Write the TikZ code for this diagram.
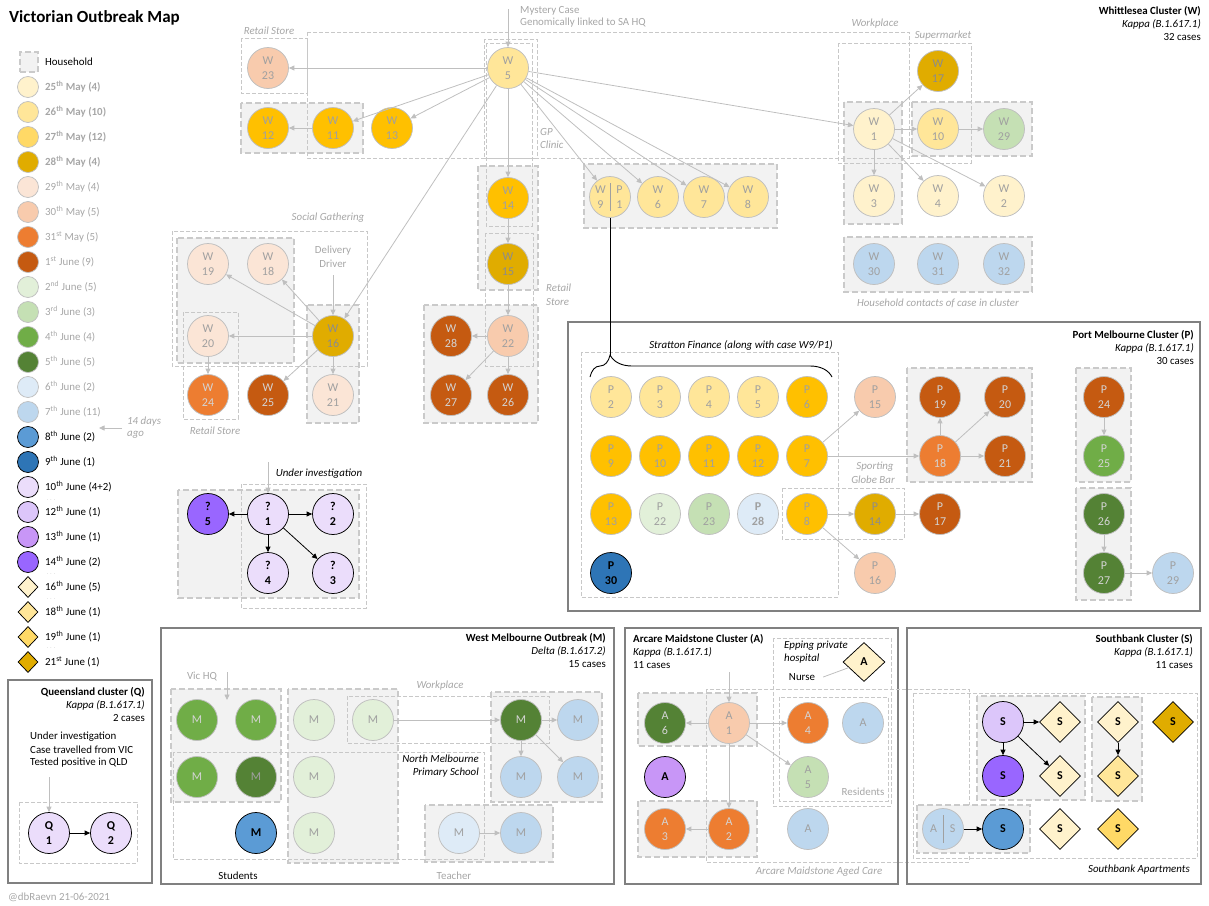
\documentclass[tikz,border=0pt]{standalone}
\usepackage{fontspec}
\setmainfont{Carlito}
\usetikzlibrary{arrows.meta,shapes.geometric,decorations.pathreplacing}

% onset-date palette
\definecolor{dMay25}{HTML}{FFF2CC}
\definecolor{dMay26}{HTML}{FFE699}
\definecolor{dMay27}{HTML}{FFC000}
\definecolor{dMay27key}{HTML}{FFD966}
\definecolor{dMay28}{HTML}{E0AC00}
\definecolor{dMay29}{HTML}{FBE5D6}
\definecolor{dMay30}{HTML}{F8CBAD}
\definecolor{dMay31}{HTML}{ED7D31}
\definecolor{dJun01}{HTML}{C55A11}
\definecolor{dJun02}{HTML}{E2F0D9}
\definecolor{dJun03}{HTML}{C5E0B4}
\definecolor{dJun04}{HTML}{70AD47}
\definecolor{dJun05}{HTML}{548235}
\definecolor{dJun06}{HTML}{DEEBF7}
\definecolor{dJun07}{HTML}{BDD7EE}
\definecolor{dJun08}{HTML}{5B9BD5}
\definecolor{dJun09}{HTML}{2E75B6}
\definecolor{dJun10}{HTML}{EBDDFB}
\definecolor{dJun12}{HTML}{DCC6FA}
\definecolor{dJun13}{HTML}{C896F7}
\definecolor{dJun14}{HTML}{9966FF}
\definecolor{dJun16}{HTML}{FFF2CC}
\definecolor{dJun18}{HTML}{FFE699}
\definecolor{dJun19}{HTML}{FFD966}
\definecolor{dJun21}{HTML}{E0AC00}
% greys
\definecolor{nodeedge}{HTML}{BFBFBF}
\definecolor{nodetext}{HTML}{A0A0A0}
\definecolor{nodelight}{HTML}{D4D4D4}
\definecolor{nodedark}{HTML}{8C8C8C}
\definecolor{edgegray}{HTML}{BFBFBF}
\definecolor{labelgray}{HTML}{A6A6A6}
\definecolor{housefill}{HTML}{F2F2F2}
\definecolor{housedash}{HTML}{CACACA}
\definecolor{zonedash}{HTML}{C8C8C8}
\definecolor{clusteredge}{HTML}{808080}

\newcommand\nf{\fontsize{12}{15}\selectfont}
\newcommand\lf{\fontsize{10.9}{12}\selectfont}

\begin{document}
\begin{tikzpicture}[x=1pt,y=-1pt,
  case/.style={circle, minimum size=41pt, inner sep=0pt, draw=nodeedge, line width=0.75pt, text=nodetext, font=\nf, align=center},
  lt/.style={text=nodelight},
  dk/.style={text=nodedark},
  recent/.style={draw=black, text=black, font=\nf\bfseries},
  sdia/.style={diamond, minimum width=41pt, minimum height=41pt, inner sep=0pt, draw=black, line width=0.75pt, text=black, font=\nf\bfseries},
  arr/.style={draw=edgegray, line width=0.8pt, -{Triangle[length=5.5pt,width=5pt]}},
  barr/.style={draw=black, line width=0.8pt, -{Triangle[length=5.5pt,width=5pt]}},
  house/.style={fill=housefill, draw=housedash, line width=2pt, dash pattern=on 6pt off 3pt},
  zone/.style={draw=zonedash, line width=0.6pt, dash pattern=on 4pt off 2pt},
  cluster/.style={draw=clusteredge, line width=2.2pt},
  tag/.style={font=\lf\itshape, text=labelgray, inner sep=0pt},
  note/.style={font=\lf, text=labelgray, inner sep=0pt},
  blk/.style={font=\lf, text=black, inner sep=0pt},
  bit/.style={font=\lf\itshape, text=black, inner sep=0pt},
  lgb/.style={draw=nodeedge, text=labelgray, font=\lf\bfseries},
  lgg/.style={draw=nodeedge, text=labelgray, font=\lf},
  lgk/.style={draw=black, text=black, font=\lf},
  legdot/.style={circle, minimum size=21pt, inner sep=0pt, line width=0.75pt},
  legdia/.style={diamond, minimum width=20pt, minimum height=21pt, inner sep=0pt, line width=0.75pt},
  legtext/.style={draw=none, anchor=west, inner sep=0pt},
]
\useasboundingbox (0,0) rectangle (1209,905);

% ---------------- title and legend ----------------
\node[anchor=west, inner sep=0pt, font=\fontsize{17}{20}\selectfont\bfseries] (title) at (9,18) {Victorian Outbreak Map};

\node[house, minimum width=18pt, minimum height=20pt, inner sep=0pt] (lghouse) at (29,62) {};
\node[blk, anchor=west] (lghousetxt) at (45,62) {Household};

\foreach \yy/\col/\txt/\tone [count=\k] in {
   87/dMay25/{25\textsuperscript{th} May (4)}/lgb,
  112/dMay26/{26\textsuperscript{th} May (10)}/lgb,
  137/dMay27key/{27\textsuperscript{th} May (12)}/lgb,
  162/dMay28/{28\textsuperscript{th} May (4)}/lgb,
  187/dMay29/{29\textsuperscript{th} May (4)}/lgg,
  212/dMay30/{30\textsuperscript{th} May (5)}/lgg,
  237/dMay31/{31\textsuperscript{st} May (5)}/lgg,
  262/dJun01/{1\textsuperscript{st} June (9)}/lgg,
  287/dJun02/{2\textsuperscript{nd} June (5)}/lgg,
  312/dJun03/{3\textsuperscript{rd} June (3)}/lgg,
  337/dJun04/{4\textsuperscript{th} June (4)}/lgg,
  362/dJun05/{5\textsuperscript{th} June (5)}/lgg,
  387/dJun06/{6\textsuperscript{th} June (2)}/lgg,
  412/dJun07/{7\textsuperscript{th} June (11)}/lgg,
  437/dJun08/{8\textsuperscript{th} June (2)}/lgk,
  462/dJun09/{9\textsuperscript{th} June (1)}/lgk,
  487/dJun10/{10\textsuperscript{th} June (4+2)}/lgk,
  512/dJun12/{12\textsuperscript{th} June (1)}/lgk,
  537/dJun13/{13\textsuperscript{th} June (1)}/lgk,
  562/dJun14/{14\textsuperscript{th} June (2)}/lgk}{
  \node[\tone, legdot, fill=\col] (lgdot\k) at (28,\yy) {};
  \node[\tone, legtext] (lgtxt\k) at (45,\yy) {\txt};
}
\foreach \yy/\col/\txt [count=\k] in {
  587/dJun16/{16\textsuperscript{th} June (5)},
  612/dJun18/{18\textsuperscript{th} June (1)},
  637/dJun19/{19\textsuperscript{th} June (1)},
  662/dJun21/{21\textsuperscript{st} June (1)}}{
  \node[lgk, legdia, fill=\col] (lgdia\k) at (28,\yy) {};
  \node[lgk, legtext] (lgdiatxt\k) at (45,\yy) {\txt};
}
\foreach \yy [count=\k] in {500,574,599,648}
  \node[note, font=\fontsize{6}{6}\selectfont] (lgskip\k) at (51,\yy) {$\cdots$};

\coordinate (agoA) at (122,428);
\coordinate (agoB) at (99,428);
\draw[arr] (agoA) -- (agoB);
\node[tag, anchor=west] (ago1) at (127,422) {14 days};
\node[tag, anchor=west] (ago2) at (127,435) {ago};

% ---------------- Whittlesea cluster ----------------
\node[blk, font=\lf\bfseries, anchor=east] (wt1) at (1201,11) {Whittlesea Cluster (W)};
\node[bit, anchor=east] (wt2) at (1201,24) {Kappa (B.1.617.1)};
\node[blk, anchor=east] (wt3) at (1201,37) {32 cases};

% households
\draw[house] (241,103) rectangle (363,153);
\draw[house] (478,166) rectangle (538,290);
\draw[house] (584,164) rectangle (777,228);
\draw[house] (844,102) rectangle (902,224);
\draw[house] (912,102) rectangle (1032,156);
\draw[house] (844,237) rectangle (1032,292);
\draw[house] (177,238) rectangle (294,363);
\draw[house] (307,305) rectangle (359,423);
\draw[house] (424,305) rectangle (538,423);

% settings
\draw[zone] (241,38) rectangle (307,93);
\draw[zone] (307,32) rectangle (909,158);
\draw[zone] (484,39) rectangle (537,158);
\draw[zone] (486,43) rectangle (532,226);
\draw[zone] (838,43) rectangle (971,163);
\draw[zone] (172,231) rectangle (367,366);
\draw[zone] (183,312) rectangle (238,419);
\draw[zone] (485,233) rectangle (533,366);

\node[tag] (lbretailA) at (269,31) {Retail Store};
\node[tag] (lbwork) at (875,24) {Workplace};
\node[tag] (lbsuper) at (943,36) {Supermarket};
\node[tag, anchor=west] (lbgp1) at (540,132) {GP};
\node[tag, anchor=west] (lbgp2) at (540,145) {Clinic};
\node[tag] (lbsocial) at (328,218) {Social Gathering};
\node[tag] (lbretailB) at (215,431) {Retail Store};
\node[tag, anchor=west] (lbretailC1) at (546,288) {Retail};
\node[tag, anchor=west] (lbretailC2) at (546,302) {Store};
\node[tag] (lbcontacts) at (938,303) {Household contacts of case in cluster};
\node[note] (lbdd1) at (333,251) {Delivery};
\node[note] (lbdd2) at (333,264) {Driver};
\node[note, anchor=west] (lbmys1) at (520,11) {Mystery Case};
\node[note, anchor=west] (lbmys2) at (520,23) {Genomically linked to SA HQ};

% cases
\node[case, fill=dMay26] (w5) at (508,68) {W\\5};
\node[case, fill=dMay30] (w23) at (268,68) {W\\23};
\node[case, fill=dMay27] (w12) at (268,128) {W\\12};
\node[case, fill=dMay27] (w11) at (333,128) {W\\11};
\node[case, fill=dMay27] (w13) at (392,128) {W\\13};
\node[case, fill=dMay27] (w14) at (508,198) {W\\14};
\node[case, dk, fill=dMay28] (w15) at (508,264) {W\\15};
\node[case, fill=dMay30] (w22) at (508,336) {W\\22};
\node[case, lt, fill=dJun01] (w28) at (451,336) {W\\28};
\node[case, lt, fill=dJun01] (w27) at (451,395) {W\\27};
\node[case, lt, fill=dJun01] (w26) at (508,395) {W\\26};
\node[case, dk, fill=dMay28] (w16) at (333,336) {W\\16};
\node[case, fill=dMay29] (w19) at (208,264) {W\\19};
\node[case, fill=dMay29] (w18) at (268,264) {W\\18};
\node[case, fill=dMay29] (w20) at (208,336) {W\\20};
\node[case, lt, fill=dMay31] (w24) at (208,395) {W\\24};
\node[case, lt, fill=dJun01] (w25) at (268,395) {W\\25};
\node[case, fill=dMay29] (w21) at (333,395) {W\\21};
\node[case, fill=dMay26] (w9) at (610,197) {};
\draw[draw=nodetext, line width=0.6pt] ([yshift=-7pt]w9.north) -- ([yshift=7pt]w9.south);
\node[text=nodetext, font=\nf, align=center, inner sep=0pt] (w9l) at ([xshift=-9.5pt]w9.center) {W\\9};
\node[text=nodetext, font=\nf, align=center, inner sep=0pt] (w9r) at ([xshift=9.5pt]w9.center) {P\\1};
\node[case, fill=dMay26] (w6) at (658,197) {W\\6};
\node[case, fill=dMay26] (w7) at (704,197) {W\\7};
\node[case, fill=dMay26] (w8) at (748,197) {W\\8};
\node[case, fill=dMay25] (w1) at (874,129) {W\\1};
\node[case, dk, fill=dMay28] (w17) at (938,71) {W\\17};
\node[case, fill=dMay26] (w10) at (938,129) {W\\10};
\node[case, fill=dJun03] (w29) at (1004,129) {W\\29};
\node[case, fill=dMay25] (w3) at (874,196) {W\\3};
\node[case, fill=dMay25] (w4) at (938,196) {W\\4};
\node[case, fill=dMay25] (w2) at (1004,196) {W\\2};
\node[case, fill=dJun07] (w30) at (874,264) {W\\30};
\node[case, fill=dJun07] (w31) at (938,264) {W\\31};
\node[case, fill=dJun07] (w32) at (1004,264) {W\\32};

% transmission links
\coordinate (mystery) at (508,9);
\draw[arr] (mystery) -- (w5);
\draw[arr] (w5) -- (w23);
\draw[arr] (w5) -- (w11);
\draw[arr] (w5) -- (w13);
\draw[arr] (w11) -- (w12);
\draw[arr] (w5) -- (w14);
\draw[arr] (w14) -- (w15);
\draw[arr] (w15) -- (w22);
\draw[arr] (w22) -- (w28);
\draw[arr] (w22) -- (w27);
\draw[arr] (w22) -- (w26);
\draw[arr] (w5) -- (w16);
\coordinate (driver) at (333,275);
\draw[arr] (driver) -- (w16);
\draw[arr] (w16) -- (w19);
\draw[arr] (w16) -- (w18);
\draw[arr] (w16) -- (w20);
\draw[arr] (w16) -- (w25);
\draw[arr] (w16) -- (w21);
\draw[arr] (w20) -- (w24);
\draw[arr] (w5) -- (w9);
\draw[arr] (w5) -- (w6);
\draw[arr] (w5) -- (w7);
\draw[arr] (w5) -- (w8);
\draw[arr] (w5) -- (w1);
\draw[arr] (w1) -- (w17);
\draw[arr] (w1) -- (w10);
\draw[arr] (w1) -- (w3);
\draw[arr] (w1) -- (w4);
\draw[arr] (w1) -- (w2);
\draw[arr] (w10) -- (w29);

% ---------------- unlinked cases under investigation ----------------
\draw[house] (178,490) rectangle (359,598);
\draw[zone] (241,484) rectangle (366,608);
\node[bit] (lbunder) at (319,474) {Under investigation};
\node[case, recent, fill=dJun14] (u5) at (208,514) {?\\5};
\node[case, recent, fill=dJun10] (u1) at (268,514) {?\\1};
\node[case, recent, fill=dJun10] (u2) at (333,514) {?\\2};
\node[case, recent, fill=dJun10] (u4) at (268,573) {?\\4};
\node[case, recent, fill=dJun10] (u3) at (333,573) {?\\3};
\coordinate (underin) at (268,462);
\draw[arr] (underin) -- (u1);
\draw[barr] (u1) -- (u5);
\draw[barr] (u1) -- (u2);
\draw[barr] (u1) -- (u4);
\draw[barr] (u1) -- (u3);

% ---------------- Port Melbourne cluster ----------------
\draw[cluster] (568,322) rectangle (1200,611);
\node[blk, font=\lf\bfseries, anchor=east] (pt1) at (1194,335) {Port Melbourne Cluster (P)};
\node[bit, anchor=east] (pt2) at (1194,348) {Kappa (B.1.617.1)};
\node[blk, anchor=east] (pt3) at (1194,361) {30 cases};

\draw[house] (907,368) rectangle (1032,482);
\draw[house] (1076,368) rectangle (1131,482);
\draw[house] (1076,488) rectangle (1131,600);
\draw[zone] (581,352) rectangle (838,597);
\draw[zone] (782,488) rectangle (904,539);
\node[bit] (lbstratton) at (741,345) {Stratton Finance (along with case W9/P1)};
\node[tag] (lbsport1) at (875,467) {Sporting};
\node[tag] (lbsport2) at (873,480) {Globe Bar};

\draw[black, line width=0.9pt, decorate, decoration={brace, amplitude=22pt, aspect=0.083}] (590,377) -- (832,377);
\coordinate (bracetip) at (610,355);
\draw[black, line width=0.9pt] (w9) -- (bracetip);

\node[case, fill=dMay26] (p2) at (611,397) {P\\2};
\node[case, fill=dMay26] (p3) at (660,397) {P\\3};
\node[case, fill=dMay26] (p4) at (709,397) {P\\4};
\node[case, fill=dMay26] (p5) at (758,397) {P\\5};
\node[case, fill=dMay27] (p6) at (807,397) {P\\6};
\node[case, fill=dMay27] (p9) at (611,456) {P\\9};
\node[case, fill=dMay27] (p10) at (660,456) {P\\10};
\node[case, fill=dMay27] (p11) at (709,456) {P\\11};
\node[case, fill=dMay27] (p12) at (758,456) {P\\12};
\node[case, fill=dMay27] (p7) at (807,456) {P\\7};
\node[case, fill=dMay27] (p13) at (611,514) {P\\13};
\node[case, fill=dJun02] (p22) at (660,514) {P\\22};
\node[case, fill=dJun03] (p23) at (709,514) {P\\23};
\node[case, fill=dJun06, font=\nf\bfseries] (p28) at (758,514) {P\\28};
\node[case, fill=dMay27] (p8) at (807,514) {P\\8};
\node[case, recent, fill=dJun09] (p30) at (611,573) {P\\30};
\node[case, fill=dMay30] (p15) at (875,397) {P\\15};
\node[case, dk, fill=dMay28] (p14) at (875,514) {P\\14};
\node[case, fill=dMay30] (p16) at (875,573) {P\\16};
\node[case, lt, fill=dJun01] (p19) at (940,397) {P\\19};
\node[case, lt, fill=dJun01] (p20) at (1005,397) {P\\20};
\node[case, lt, fill=dMay31] (p18) at (940,456) {P\\18};
\node[case, lt, fill=dJun01] (p21) at (1005,456) {P\\21};
\node[case, lt, fill=dJun01] (p17) at (940,514) {P\\17};
\node[case, lt, fill=dJun01] (p24) at (1104,397) {P\\24};
\node[case, lt, fill=dJun04] (p25) at (1104,456) {P\\25};
\node[case, lt, fill=dJun05] (p26) at (1104,514) {P\\26};
\node[case, lt, fill=dJun05] (p27) at (1104,573) {P\\27};
\node[case, fill=dJun07] (p29) at (1173,573) {P\\29};

\draw[arr] (p7) -- (p15);
\draw[arr] (p7) -- (p18);
\draw[arr] (p18) -- (p19);
\draw[arr] (p18) -- (p20);
\draw[arr] (p18) -- (p21);
\draw[arr] (p8) -- (p14);
\draw[arr] (p14) -- (p17);
\draw[arr] (p8) -- (p16);
\draw[arr] (p24) -- (p25);
\draw[arr] (p26) -- (p27);
\draw[arr] (p27) -- (p29);

% ---------------- Queensland cluster ----------------
\draw[cluster] (8,680) rectangle (152,883);
\node[blk, font=\lf\bfseries, anchor=east] (qt1) at (145,692) {Queensland cluster (Q)};
\node[bit, anchor=east] (qt2) at (145,705) {Kappa (B.1.617.1)};
\node[blk, anchor=east] (qt3) at (145,718) {2 cases};
\node[blk, anchor=west] (qn1) at (30,737) {Under investigation};
\node[blk, anchor=west] (qn2) at (30,750) {Case travelled from VIC};
\node[blk, anchor=west] (qn3) at (30,763) {Tested positive in QLD};
\draw[zone] (19,802) rectangle (137,863);
\node[case, recent, fill=dJun10] (q1) at (49,833) {Q\\1};
\node[case, recent, fill=dJun10] (q2) at (111,833) {Q\\2};
\coordinate (qin) at (49,777);
\draw[arr] (qin) -- (q1);
\draw[barr] (q1) -- (q2);

% ---------------- West Melbourne outbreak ----------------
\draw[cluster] (161,628) rectangle (614,884);
\node[blk, font=\lf\bfseries, anchor=east] (mt1) at (606,638) {West Melbourne Outbreak (M)};
\node[bit, anchor=east] (mt2) at (606,651) {Delta (B.1.617.2)};
\node[blk, anchor=east] (mt3) at (606,664) {15 cases};

\draw[house] (171,689) rectangle (281,802);
\draw[house] (288,689) rectangle (398,863);
\draw[house] (491,692) rectangle (602,802);
\draw[house] (425,805) rectangle (553,862);
\draw[zone] (347,696) rectangle (549,743);
\draw[zone] (173,752) rectangle (484,859);
\node[tag] (lbmwork) at (440,686) {Workplace};
\node[bit, anchor=east] (lbnm1) at (479,759) {North Melbourne};
\node[bit, anchor=east] (lbnm2) at (479,773) {Primary School};
\node[note] (lbvichq) at (202,676) {Vic HQ};
\node[blk] (lbstudents) at (238,876) {Students};
\node[note] (lbteacher) at (454,876) {Teacher};

\node[case, lt, fill=dJun04] (m11) at (197,720) {M};
\node[case, lt, fill=dJun04] (m12) at (256,720) {M};
\node[case, fill=dJun02] (m13) at (314,720) {M};
\node[case, fill=dJun02] (m14) at (373,720) {M};
\node[case, lt, fill=dJun05] (m15) at (521,720) {M};
\node[case, fill=dJun07] (m16) at (578,720) {M};
\node[case, lt, fill=dJun04] (m21) at (197,777) {M};
\node[case, fill=dJun05] (m22) at (256,777) {M};
\node[case, fill=dJun02] (m23) at (314,777) {M};
\node[case, fill=dJun07] (m25) at (521,777) {M};
\node[case, fill=dJun07] (m26) at (578,777) {M};
\node[case, recent, fill=dJun08] (m32) at (256,833) {M};
\node[case, fill=dJun02] (m33) at (314,833) {M};
\node[case, fill=dJun06] (mteach) at (459,833) {M};
\node[case, fill=dJun07] (m36) at (521,833) {M};

\coordinate (vichqA) at (227,672);
\coordinate (vichqB) at (227,700);
\draw[arr] (vichqA) -- (vichqB);
\draw[arr] (m14) -- (m15);
\draw[arr] (m15) -- (m16);
\draw[arr] (m15) -- (m25);
\draw[arr] (m15) -- (m26);
\draw[arr] (mteach) -- (m36);

% ---------------- Arcare Maidstone cluster ----------------
\draw[cluster] (625,628) rectangle (898,884);
\node[blk, font=\lf\bfseries, anchor=west] (at1) at (633,639) {Arcare Maidstone Cluster (A)};
\node[bit, anchor=west] (at2) at (633,652) {Kappa (B.1.617.1)};
\node[blk, anchor=west] (at3) at (633,665) {11 cases};

\draw[house] (638,693) rectangle (757,746);
\draw[house] (638,801) rectangle (757,857);
\draw[zone] (773,638) rectangle (891,806);
\draw[zone] (779,697) rectangle (888,801);
\draw[zone] (706,689) rectangle (969,862);
\node[bit, anchor=west] (lbepp1) at (784,646) {Epping private};
\node[bit, anchor=west] (lbepp2) at (784,659) {hospital};
\node[blk] (lbnurse) at (802,677) {Nurse};
\node[note] (lbresid) at (863,792) {Residents};
\node[tag] (lbaged) at (819,872) {Arcare Maidstone Aged Care};

\node[sdia, fill=dJun16, minimum height=39pt, minimum width=42pt] (anurse) at (864,662) {A};
\draw[draw=edgegray, line width=0.8pt] ([xshift=8pt]lbnurse.east) -- (anurse);

\node[case, lt, fill=dJun05] (a6) at (665,723) {A\\6};
\node[case, fill=dMay30] (a1) at (729,723) {A\\1};
\node[case, lt, fill=dMay31] (a4) at (808,723) {A\\4};
\node[case, fill=dJun07] (aresA) at (863,723) {A};
\node[case, recent, fill=dJun13] (a13) at (665,777) {A};
\node[case, fill=dJun03] (a5) at (808,777) {A\\5};
\node[case, lt, fill=dMay31] (a3) at (665,829) {A\\3};
\node[case, lt, fill=dMay31] (a2) at (729,829) {A\\2};
\node[case, fill=dJun07] (aresB) at (808,829) {A};

\coordinate (ain) at (729,672);
\draw[arr] (ain) -- (a1);
\draw[arr] (a1) -- (a6);
\draw[arr] (a1) -- (a4);
\draw[arr] (a1) -- (a5);
\draw[arr] (a1) -- (a2);
\draw[arr] (a2) -- (a3);

% ---------------- Southbank cluster ----------------
\draw[cluster] (907,628) rectangle (1201,884);
\node[blk, font=\lf\bfseries, anchor=east] (st1) at (1193,639) {Southbank Cluster (S)};
\node[bit, anchor=east] (st2) at (1193,652) {Kappa (B.1.617.1)};
\node[blk, anchor=east] (st3) at (1193,665) {11 cases};

\draw[house] (977,696) rectangle (1085,800);
\draw[house] (1092,697) rectangle (1142,801);
\draw[house] (917,805) rectangle (1030,853);
\draw[zone] (913,693) rectangle (1197,858);
\node[bit, anchor=east] (lbapts) at (1190,870) {Southbank Apartments};

\node[case, recent, fill=dJun12] (s1) at (1003,722) {S};
\node[sdia, fill=dJun16] (s2) at (1060,722) {S};
\node[sdia, fill=dJun16] (s3) at (1118,722) {S};
\node[sdia, fill=dJun21] (s4) at (1173,722) {S};
\node[case, recent, fill=dJun14] (s5) at (1003,776) {S};
\node[sdia, fill=dJun16] (s6) at (1060,776) {S};
\node[sdia, fill=dJun18] (s7) at (1118,776) {S};
\node[case, fill=dJun07] (as) at (943,829) {};
\draw[draw=nodetext, line width=0.6pt] ([yshift=-7pt]as.north) -- ([yshift=7pt]as.south);
\node[text=nodetext, font=\nf, inner sep=0pt] (asl) at ([xshift=-9.5pt]as.center) {A};
\node[text=nodetext, font=\nf, inner sep=0pt] (asr) at ([xshift=9.5pt]as.center) {S};
\node[case, recent, fill=dJun08] (s8) at (1003,829) {S};
\node[sdia, fill=dJun16] (s9) at (1060,829) {S};
\node[sdia, fill=dJun19] (s10) at (1118,829) {S};

\draw[barr] (s1) -- (s2);
\draw[barr] (s1) -- (s5);
\draw[barr] (s1) -- (s6);
\draw[barr] (s3) -- (s7);
\draw[barr] (as) -- (s8);

% ---------------- footer ----------------
\node[note, anchor=west] (credit) at (8,897) {@dbRaevn 21-06-2021};
\end{tikzpicture}
\end{document}
